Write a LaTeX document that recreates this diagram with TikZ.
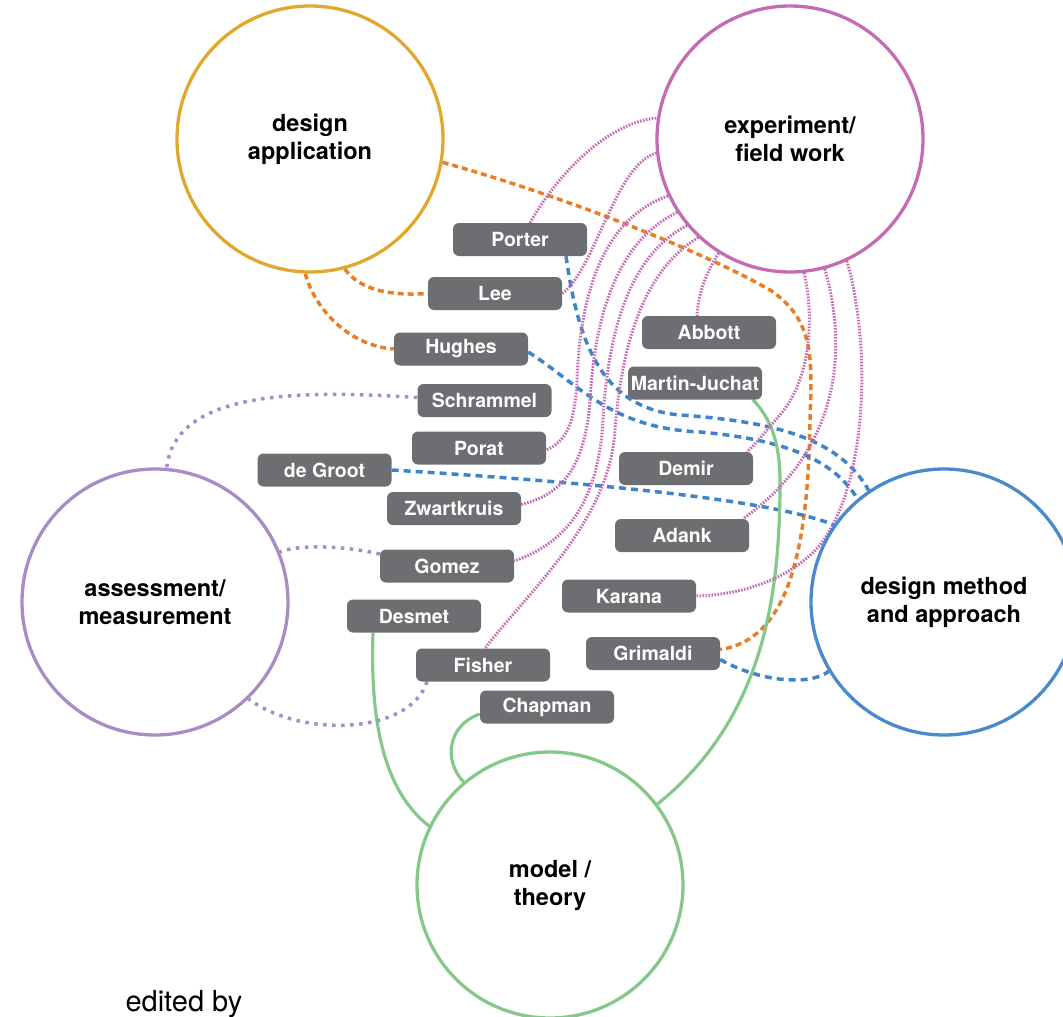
\documentclass[tikz,border=0pt]{standalone}
\usepackage{fontspec}
\setmainfont{TeX Gyre Heros}
\usetikzlibrary{backgrounds}
\definecolor{cgold}{HTML}{E2A82E}
\definecolor{cpink}{HTML}{C56BB2}
\definecolor{clav}{HTML}{A88CC4}
\definecolor{cblue}{HTML}{4A8ACA}
\definecolor{cdash}{HTML}{3D85C8}
\definecolor{cgreen}{HTML}{85C88C}
\definecolor{corange}{HTML}{E87E26}
\definecolor{cbox}{HTML}{6D6E71}
\begin{document}
\begin{tikzpicture}[x=1pt,y=-1pt,
  topic/.style={circle, draw, line width=3.3pt, minimum size=266pt, inner sep=0pt, align=center,
    font=\bfseries\fontsize{23.5}{28}\selectfont},
  person/.style={rectangle, rounded corners=6pt, fill=cbox, text=white, minimum width=134pt,
    minimum height=33pt, inner sep=0pt, font=\bfseries\fontsize{19.5}{22}\selectfont},
  oline/.style={draw=corange, line width=3.5pt, dash pattern=on 6pt off 4pt},
  bline/.style={draw=cdash, line width=3.5pt, dash pattern=on 7pt off 5pt},
  pline/.style={draw=cpink, line width=3pt, dash pattern=on 1.6pt off 1.4pt},
  lline/.style={draw=clav, line width=3.5pt, dash pattern=on 3.5pt off 5.5pt},
  gline/.style={draw=cgreen, line width=3.2pt}]
\useasboundingbox (0,0) rectangle (1063,1017);

% topic circles
\node[topic, draw=cgold] (DA) at (310,139) {design\\application};
\node[topic, draw=cpink] (EX) at (790,139) {experiment/\\field work};
\node[topic, draw=clav] (AS) at (155,602) {assessment/\\measurement};
\node[topic, draw=cblue] (DM) at (944,602) {design method\\and approach};
\node[topic, draw=cgreen] (MT) at (550,885) {model /\\theory};

% people
\node[person] (Porter) at (520,239.5) {Porter};
\node[person] (Lee) at (495,293.5) {Lee};
\node[person] (Hughes) at (461,349) {Hughes};
\node[person] (Schrammel) at (484.5,400.5) {Schrammel};
\node[person] (Porat) at (479,448) {Porat};
\node[person] (degroot) at (324.5,470) {de Groot};
\node[person] (Zwartkruis) at (454,508.5) {Zwartkruis};
\node[person] (Gomez) at (447,566) {Gomez};
\node[person] (Desmet) at (414,616) {Desmet};
\node[person] (Fisher) at (483,665) {Fisher};
\node[person] (Chapman) at (547,707) {Chapman};
\node[person] (Abbott) at (709,332.5) {Abbott};
\node[person] (mj) at (695,383) {Martin-Juchat};
\node[person] (Demir) at (686,468.5) {Demir};
\node[person] (Adank) at (682,535.5) {Adank};
\node[person] (Karana) at (629,596) {Karana};
\node[person] (Grimaldi) at (653,653.5) {Grimaldi};

\node[anchor=base west, font=\fontsize{29}{32}\selectfont] (edited) at (122,1011) {edited by};

\begin{scope}[on background layer]
% orange: design application
\draw[oline] (DA.350) .. controls (560,195) and (700,250) .. (770,290)
  .. controls (815,320) and (812,360) .. (810,420)
  .. controls (808,560) and (785,640) .. ([yshift=4pt]Grimaldi.east);
\draw[oline] (DA.285) .. controls (360,290) and (390,296) .. (Lee.west);
\draw[oline] (DA.268) .. controls (315,310) and (350,346) .. (Hughes.west);

% blue: design method
\draw[bline] ([xshift=46pt]Porter.south) .. controls (578,340) and (600,408) .. (680,415)
  .. controls (780,422) and (840,440) .. (DM.124);
\draw[bline] ([yshift=-3pt]Hughes.east) .. controls (580,385) and (610,428) .. (700,432)
  .. controls (790,440) and (835,462) .. (DM.130);
\draw[bline] (degroot.east) .. controls (520,478) and (760,495) .. (DM.145);
\draw[bline] ([yshift=-6pt]Grimaldi.east) .. controls (760,682) and (810,686) .. (DM.211);

% green: model / theory
\draw[gline] ([xshift=58pt]mj.south) .. controls (772,420) and (781,445) .. (780,490)
  .. controls (779,600) and (762,720) .. (MT.37);
\draw[gline] ([xshift=-41pt]Desmet.south) .. controls (370,720) and (383,790) .. (MT.154);
\draw[gline] ([yshift=-7pt]Chapman.west) .. controls (448,725) and (443,760) .. (MT.130);

% lavender: assessment
\draw[lline] ([yshift=3pt]Schrammel.west) .. controls (300,390) and (175,390) .. (AS.85);
\draw[lline] ([yshift=12pt]Gomez.west) .. controls (340,545) and (300,545) .. (AS.22);
\draw[lline] ([xshift=-56pt]Fisher.south) .. controls (410,735) and (300,738) .. (AS.314);

% pink: experiment
\draw[pline] ([xshift=10pt]Porter.north) .. controls (560,170) and (610,122) .. (EX.171);
\draw[pline] (Lee.east) .. controls (595,270) and (615,165) .. (EX.186);
\draw[pline] (EX.205) .. controls (600,220) and (580,300) .. (577,380)
  .. controls (575,425) and (565,442) .. ([yshift=-2pt]Porat.east);
\draw[pline] (EX.213) .. controls (620,240) and (595,310) .. (590,400)
  .. controls (585,470) and (560,495) .. ([yshift=4pt]Zwartkruis.east);
\draw[pline] (EX.220) .. controls (630,255) and (608,330) .. (603,420)
  .. controls (598,510) and (560,545) .. ([yshift=5pt]Gomez.east);
\draw[pline] (EX.227) .. controls (645,270) and (622,340) .. (615,430)
  .. controls (610,520) and (530,590) .. ([xshift=2pt]Fisher.north);
\draw[pline] (EX.238) .. controls (705,275) and (698,295) .. ([xshift=-12pt]Abbott.north);
\draw[pline] (EX.276) .. controls (815,320) and (810,380) .. (780,415)
  .. controls (765,432) and (755,445) .. ([xshift=61pt]Demir.north);
\draw[pline] (EX.285) .. controls (848,350) and (840,450) .. ([xshift=61pt]Adank.north);
\draw[pline] (EX.295) .. controls (870,340) and (870,480) .. (820,545)
  .. controls (790,580) and (740,595) .. (Karana.east);
\end{scope}
\end{tikzpicture}
\end{document}
